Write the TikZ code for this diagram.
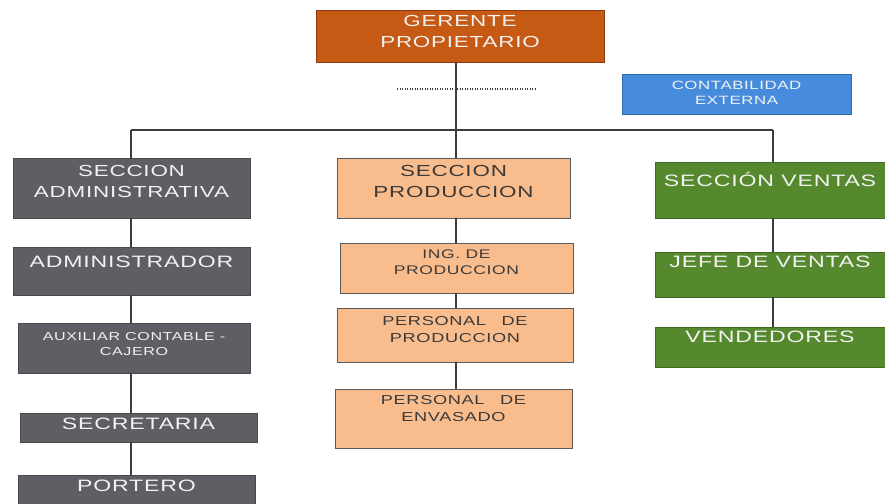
\documentclass[tikz,border=0pt]{standalone}
\usepackage{fontspec}
\newfontfamily\orgfont[FakeStretch=1.4,LetterSpace=5]{Liberation Sans}
\definecolor{cOrange}{HTML}{C65A14}
\definecolor{cOrangeEdge}{HTML}{8E3A10}
\definecolor{cBlue}{HTML}{478CDC}
\definecolor{cBlueEdge}{HTML}{2F68AE}
\definecolor{cGray}{HTML}{5E5E64}
\definecolor{cGrayEdge}{HTML}{48484D}
\definecolor{cPeach}{HTML}{F9BC8C}
\definecolor{cPeachEdge}{HTML}{5A5A5A}
\definecolor{cGreen}{HTML}{56892E}
\definecolor{cGreenEdge}{HTML}{3F6A1F}
\definecolor{cLine}{HTML}{3C3C3C}
\definecolor{cLightText}{HTML}{F2F2F2}
\definecolor{cDarkText}{HTML}{3A3A3A}
% box label: #1 upward shift, #2 font size, #3 lines
\newcommand\btxt[3]{\fontsize{#2}{#2}\selectfont\raisebox{0pt}[\height][\dimexpr\depth+#1*2\relax]{\begin{tabular}{@{}c@{}}#3\end{tabular}}}
\renewcommand\arraystretch{1.3}
\begin{document}
\begin{tikzpicture}[x=1pt,y=-1pt,
  orgbox/.style={rectangle, inner sep=0pt, line width=0.8pt, font=\orgfont},
  orangeb/.style={orgbox, fill=cOrange, draw=cOrangeEdge, text=cLightText},
  blueb/.style={orgbox, fill=cBlue, draw=cBlueEdge, text=cLightText},
  grayb/.style={orgbox, fill=cGray, draw=cGrayEdge, text=cLightText},
  peachb/.style={orgbox, fill=cPeach, draw=cPeachEdge, text=cDarkText},
  greenb/.style={orgbox, fill=cGreen, draw=cGreenEdge, text=cLightText},
  link/.style={draw=cLine, line width=1.3pt},
  dotline/.style={draw=cLine, line width=1.3pt, dash pattern=on 1.2pt off 1.3pt}]
\useasboundingbox (0,0) rectangle (885,503);
\clip (0,0) rectangle (885,503);
\fill[white] (0,0) rectangle (885,503);

% junction points of the main bus
\coordinate (L) at (131,130);
\coordinate (M) at (456,130);
\coordinate (R) at (773,130);
\coordinate (dotA) at (397,89);
\coordinate (dotB) at (535,89);

% top level
\node[orangeb, minimum width=288pt, minimum height=52pt] (ger) at (460,36)
  {\btxt{3pt}{16pt}{GERENTE\\PROPIETARIO}};
\node[blueb, minimum width=229pt, minimum height=40pt] (cont) at (736.5,94)
  {\btxt{0pt}{12pt}{CONTABILIDAD\\EXTERNA}};

% administrative branch
\node[grayb, minimum width=237pt, minimum height=60pt] (sa) at (131.5,188)
  {\btxt{5.5pt}{16pt}{SECCION\\ADMINISTRATIVA}};
\node[grayb, minimum width=237pt, minimum height=48pt] (adm) at (131.5,271)
  {\btxt{8pt}{16.5pt}{ADMINISTRADOR}};
\node[grayb, minimum width=232pt, minimum height=50pt] (aux) at (134,348)
  {\btxt{3pt}{11.5pt}{AUXILIAR CONTABLE -\\CAJERO}};
\node[grayb, minimum width=237pt, minimum height=29pt] (sec) at (138.5,427.5)
  {\btxt{2.5pt}{16.5pt}{SECRETARIA}};
\node[grayb, minimum width=237pt, minimum height=35pt] (port) at (136.5,492.5)
  {\btxt{5.5pt}{16.5pt}{PORTERO}};

% production branch
\node[peachb, minimum width=233pt, minimum height=60pt] (sp) at (453.5,188)
  {\btxt{5.5pt}{16pt}{SECCION\\PRODUCCION}};
\node[peachb, minimum width=233pt, minimum height=50pt] (ing) at (456.5,268)
  {\btxt{4.5pt}{12.5pt}{ING. DE\\PRODUCCION}};
\node[peachb, minimum width=236pt, minimum height=54pt] (pp) at (455,335)
  {\btxt{4pt}{13pt}{PERSONAL\hspace{1.2em}DE\\PRODUCCION}};
\node[peachb, minimum width=237pt, minimum height=59pt] (pe) at (453.5,418.5)
  {\btxt{8.5pt}{13pt}{PERSONAL\hspace{1.2em}DE\\ENVASADO}};

% sales branch
\node[greenb, minimum width=230pt, minimum height=56pt] (sv) at (770,190)
  {\btxt{8pt}{16.5pt}{SECCIÓN VENTAS}};
\node[greenb, minimum width=230pt, minimum height=45pt] (jv) at (770,274.5)
  {\btxt{11.5pt}{16.5pt}{JEFE DE VENTAS}};
\node[greenb, minimum width=230pt, minimum height=40pt] (vd) at (770,347)
  {\btxt{9pt}{16.5pt}{VENDEDORES}};

% connectors
\path[link] (ger.south -| M) -- (M);
\path[link] (L) -- (R);
\path[link] (L) -- (sa.north -| L);
\path[link] (M) -- (sp.north -| M);
\path[link] (R) -- (sv.north -| R);
\path[dotline] (dotA) -- (dotB);

\path[link] (sa.south -| L) -- (adm.north -| L);
\path[link] (adm.south -| L) -- (aux.north -| L);
\path[link] (aux.south -| L) -- (sec.north -| L);
\path[link] (sec.south -| L) -- (port.north -| L);

\path[link] (sp.south -| M) -- (ing.north -| M);
\path[link] (ing.south -| M) -- (pp.north -| M);
\path[link] (pp.south -| M) -- (pe.north -| M);

\path[link] (sv.south -| R) -- (jv.north -| R);
\path[link] (jv.south -| R) -- (vd.north -| R);
\end{tikzpicture}
\end{document}
